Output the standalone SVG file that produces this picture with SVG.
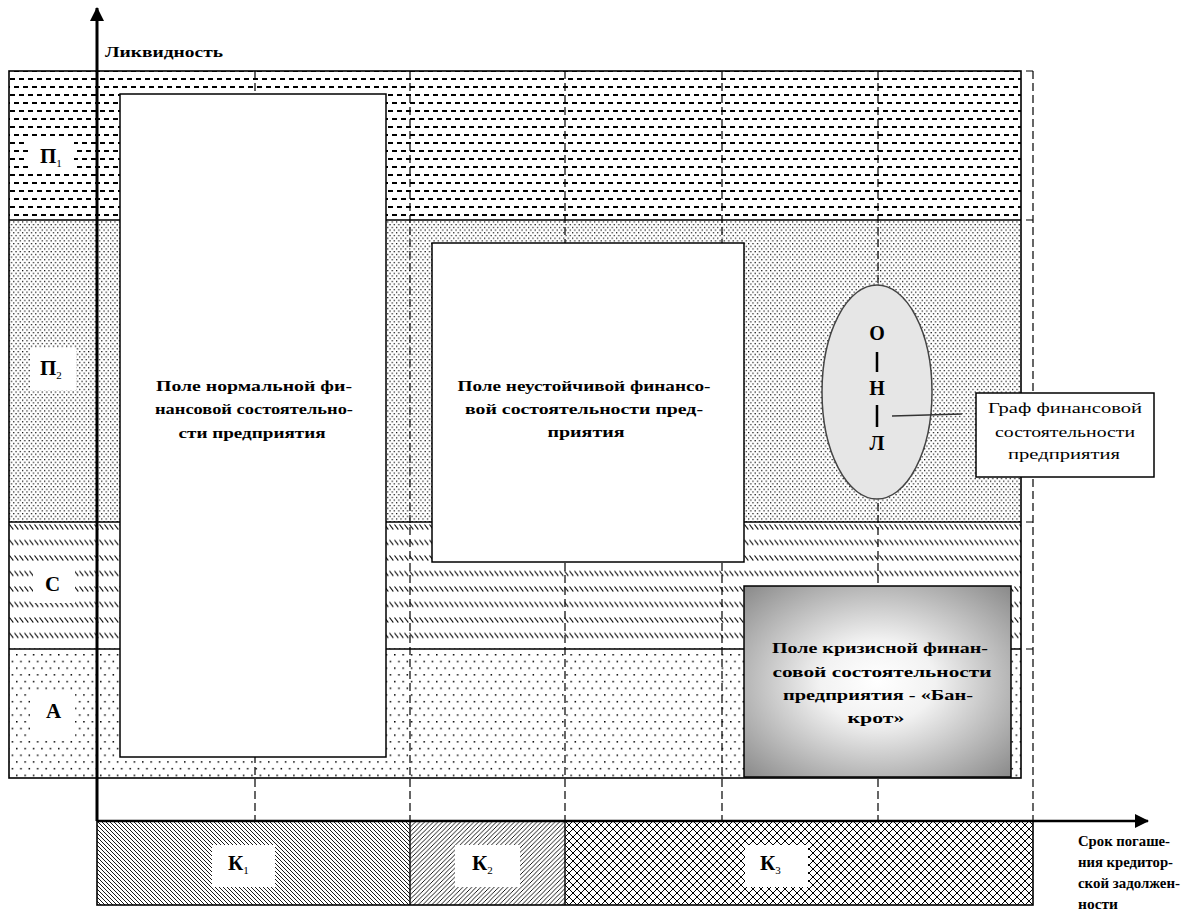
<svg xmlns="http://www.w3.org/2000/svg" width="1198" height="915" viewBox="0 0 1198 915">
<style>
.b{font-family:"Liberation Serif","Times New Roman",serif;font-weight:bold;fill:#000}
.r{font-family:"Liberation Serif","Times New Roman",serif;fill:#000}
.lbl{font-size:21px}
.sub{font-size:11px;font-weight:normal}
.bt{font-size:15px}
.dash{stroke:#000;stroke-width:1.2;stroke-dasharray:8 4;fill:none}
.frame{fill:none;stroke:#000;stroke-width:1.6}
.box{fill:#fff;stroke:#000;stroke-width:1.5}
.ko{fill:#fff}
</style>
<defs>
<pattern id="pDash" width="18" height="16" patternUnits="userSpaceOnUse" x="9" y="74">
<path d="M1,5h5 M10,5h5 M5,13h5 M14,13h5 M-4,13h5" stroke="#000" stroke-width="2"/>
</pattern>
<pattern id="pDots" width="4.4" height="5.4" patternUnits="userSpaceOnUse">
<rect x="0" y="0" width="1.2" height="1.2" fill="#000"/>
<rect x="2.2" y="2.7" width="1.2" height="1.2" fill="#000"/>
</pattern>
<pattern id="pHatch" width="5" height="15.5" patternUnits="userSpaceOnUse" x="9" y="524">
<path d="M0.5,0.5 L4.3,5.5" stroke="#000" stroke-width="1.1"/>
</pattern>
<pattern id="pSparse" width="8.4" height="13.4" patternUnits="userSpaceOnUse" x="16" y="654">
<rect x="0" y="0" width="1.5" height="1.5" fill="#000"/>
<rect x="4.2" y="6.7" width="1.5" height="1.5" fill="#000"/>
</pattern>
<pattern id="pK1" width="4" height="4" patternUnits="userSpaceOnUse">
<path d="M0,0 L4,4 M-1,3 L1,5 M3,-1 L5,1" stroke="#000" stroke-width="0.9"/>
</pattern>
<pattern id="pK2" width="4.5" height="4.5" patternUnits="userSpaceOnUse">
<path d="M0,4.5 L4.5,0 M-1,1 L1,-1 M3.5,5.5 L5.5,3.5" stroke="#000" stroke-width="0.9"/>
</pattern>
<pattern id="pK3" width="8" height="8" patternUnits="userSpaceOnUse" x="565" y="821">
<path d="M0,0 L8,8 M8,0 L0,8" stroke="#000" stroke-width="1"/>
</pattern>
<radialGradient id="gB" cx="50%" cy="50%" r="72%">
<stop offset="0" stop-color="#ffffff"/>
<stop offset="0.3" stop-color="#f2f2f2"/>
<stop offset="1" stop-color="#868686"/>
</radialGradient>
<marker id="arr" viewBox="0 0 14 14" refX="13" refY="7" markerWidth="14" markerHeight="14" markerUnits="userSpaceOnUse" orient="auto">
<path d="M0,0 L14,7 L0,14 z" fill="#000"/>
</marker>
</defs>

<g id="bands">
<rect x="9" y="71" width="1012" height="149" fill="url(#pDash)"/>
<rect x="9" y="220" width="1012" height="302" fill="url(#pDots)"/>
<rect x="9" y="522" width="1012" height="127" fill="url(#pHatch)"/>
<rect x="9" y="649" width="1012" height="129" fill="url(#pSparse)"/>
<rect x="9" y="71" width="1012" height="707" class="frame"/>
<path d="M9,220H1021 M9,522H1021 M9,649H1021" stroke="#000" stroke-width="1.4"/>
</g>

<g id="band-labels">
<rect class="ko" x="28" y="139" width="46" height="34"/>
<text class="b lbl" x="40" y="163">П<tspan class="sub" dy="4">1</tspan></text>
<rect class="ko" x="30" y="348" width="46" height="42"/>
<text class="b lbl" x="40" y="375">П<tspan class="sub" dy="4">2</tspan></text>
<rect class="ko" x="33" y="565" width="42" height="38"/>
<text class="b lbl" x="45" y="591">С</text>
<rect class="ko" x="30" y="690" width="45" height="47"/>
<text class="b lbl" x="46" y="718">А</text>
</g>

<g id="grid">
<path class="dash" d="M255,71V821 M410,71V821 M565,71V821 M722,71V821 M878,71V821 M1033,71V821"/>
<path d="M1026,71H1033 M1026,220H1033 M1026,522H1033 M1026,649H1033" stroke="#000" stroke-width="1.2"/>
</g>

<g id="k-bar">
<rect x="97" y="821" width="313" height="84" fill="url(#pK1)"/>
<rect x="410" y="821" width="155" height="84" fill="url(#pK2)"/>
<rect x="565" y="821" width="468" height="84" fill="url(#pK3)"/>
<rect x="97" y="821" width="936" height="84" class="frame"/>
<path d="M410,821V905 M565,821V905" stroke="#000" stroke-width="1.4"/>
<rect class="ko" x="212" y="845" width="63" height="42"/>
<text class="b lbl" x="228" y="870">К<tspan class="sub" dy="4">1</tspan></text>
<rect class="ko" x="455" y="845" width="65" height="42"/>
<text class="b lbl" x="472" y="870">К<tspan class="sub" dy="4">2</tspan></text>
<rect class="ko" x="745" y="845" width="63" height="42"/>
<text class="b lbl" x="760" y="870">К<tspan class="sub" dy="4">3</tspan></text>
</g>

<g id="field-normal">
<rect class="box" x="120" y="94" width="266" height="663"/>
<text class="b bt" text-anchor="middle" x="254" y="391" textLength="196" lengthAdjust="spacingAndGlyphs">Поле нормальной фи-</text>
<text class="b bt" text-anchor="middle" x="254" y="414" textLength="198" lengthAdjust="spacingAndGlyphs">нансовой состоятельно-</text>
<text class="b bt" text-anchor="middle" x="252" y="438" textLength="147" lengthAdjust="spacingAndGlyphs">сти предприятия</text>
</g>

<g id="field-unstable">
<rect class="box" x="432" y="243" width="312" height="319"/>
<text class="b bt" text-anchor="middle" x="584" y="391" textLength="253" lengthAdjust="spacingAndGlyphs">Поле неустойчивой финансо-</text>
<text class="b bt" text-anchor="middle" x="584" y="414" textLength="238" lengthAdjust="spacingAndGlyphs">вой состоятельности пред-</text>
<text class="b bt" text-anchor="middle" x="586" y="437" textLength="77" lengthAdjust="spacingAndGlyphs">приятия</text>
</g>

<g id="field-bankrupt">
<rect x="744" y="586" width="267" height="191" fill="url(#gB)" stroke="#000" stroke-width="1.5"/>
<text class="b bt" text-anchor="middle" x="880" y="653" textLength="216" lengthAdjust="spacingAndGlyphs">Поле кризисной финан-</text>
<text class="b bt" text-anchor="middle" x="882" y="677" textLength="219" lengthAdjust="spacingAndGlyphs">совой состоятельности</text>
<text class="b bt" text-anchor="middle" x="878" y="700" textLength="190" lengthAdjust="spacingAndGlyphs">предприятия - «Бан-</text>
<text class="b bt" text-anchor="middle" x="876" y="723" textLength="57" lengthAdjust="spacingAndGlyphs">крот»</text>
</g>

<g id="graph-oval">
<ellipse cx="877" cy="392" rx="55" ry="107" fill="#e6e6e6" stroke="#444" stroke-width="1.5"/>
<text class="b" font-size="20" text-anchor="middle" x="877" y="340">О</text>
<path d="M877,352V372 M877,405V427" stroke="#000" stroke-width="2.5"/>
<text class="b" font-size="20" text-anchor="middle" x="877" y="395">Н</text>
<text class="b" font-size="20" text-anchor="middle" x="877" y="450">Л</text>
</g>

<g id="graph-label">
<rect class="box" x="976" y="393" width="178" height="84"/>
<text class="r" font-size="15" text-anchor="middle" x="1065" y="413" textLength="154" lengthAdjust="spacingAndGlyphs">Граф финансовой</text>
<text class="r" font-size="15" text-anchor="middle" x="1065" y="437" textLength="140" lengthAdjust="spacingAndGlyphs">состоятельности</text>
<text class="r" font-size="15" text-anchor="middle" x="1064" y="459" textLength="112" lengthAdjust="spacingAndGlyphs">предприятия</text>
</g>

<g id="axis-labels">
<text class="b" font-size="14" x="105" y="57" textLength="118" lengthAdjust="spacingAndGlyphs">Ликвидность</text>
<text class="b" font-size="14" x="1078" y="846" textLength="92" lengthAdjust="spacingAndGlyphs">Срок погаше-</text>
<text class="b" font-size="14" x="1078" y="867" textLength="95" lengthAdjust="spacingAndGlyphs">ния кредитор-</text>
<text class="b" font-size="14" x="1078" y="888" textLength="102" lengthAdjust="spacingAndGlyphs">ской задолжен-</text>
<text class="b" font-size="14" x="1078" y="909" textLength="40" lengthAdjust="spacingAndGlyphs">ности</text>
</g>

<g id="connectors">
<line x1="97" y1="821" x2="97" y2="8" stroke="#000" stroke-width="3" marker-end="url(#arr)"/>
<line x1="97" y1="821" x2="1148" y2="821" stroke="#000" stroke-width="2.5" marker-end="url(#arr)"/>
<line x1="892" y1="416" x2="962" y2="414" stroke="#333" stroke-width="1.5"/>
</g>
</svg>
